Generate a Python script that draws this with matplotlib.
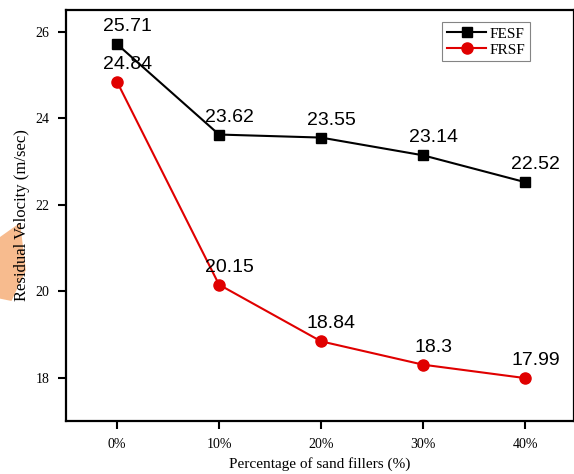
import matplotlib.pyplot as plt
from matplotlib.patches import Polygon

# percentage of sand fillers
labels = ["0%", "10%", "20%", "30%", "40%"]
fesf = [25.71, 23.62, 23.55, 23.14, 22.52]
frsf = [24.84, 20.15, 18.84, 18.3, 17.99]
x = list(range(len(labels)))

fig = plt.figure(figsize=(5.74, 4.74), dpi=100)
ax = fig.add_axes([0.115, 0.112, 0.885, 0.867])

# orange blob at the left edge of the original image
fig.patches.append(Polygon([[0.0, 0.50], [0.035, 0.53], [0.045, 0.43], [0.02, 0.365], [0.0, 0.37]],
                           closed=True, transform=fig.transFigure, facecolor='#f6b07a',
                           edgecolor='none', alpha=0.85, zorder=-5))

ax.plot(x, fesf, color='black', marker='s', markersize=7, linewidth=1.5, label='FESF')
ax.plot(x, frsf, color='#e00000', marker='o', markersize=8, linewidth=1.5, label='FRSF')

# value labels sit a bit right of and above each point
for xi, v in zip(x, fesf):
    ax.annotate(str(v), (xi, v), xytext=(7.5, 12.5), textcoords='offset points', ha='center',
                va='center', fontsize=14, family='Liberation Sans')
for xi, v in zip(x, frsf):
    ax.annotate(str(v), (xi, v), xytext=(7.5, 12.5), textcoords='offset points', ha='center',
                va='center', fontsize=14, family='Liberation Sans')

ax.set_xlim(-0.5, 4.48)
ax.set_ylim(17, 26.5)
ax.set_xticks(x)
ax.set_xticklabels(labels)
ax.set_yticks([18, 20, 22, 24, 26])
ax.tick_params(direction='out', length=6, width=1.5, labelsize=10, pad=6)
for lab in ax.get_xticklabels() + ax.get_yticklabels():
    lab.set_family('Liberation Serif')
for s in ax.spines.values():
    s.set_linewidth(1.6)

ax.set_xlabel('Percentage of sand fillers (%)', family='Liberation Serif', fontsize=11, labelpad=5)
ax.set_ylabel('Residual Velocity (m/sec)', family='Liberation Serif', fontsize=12, labelpad=4)

leg = ax.legend(loc='upper right', bbox_to_anchor=(0.913, 0.97), prop={'family': 'Liberation Serif', 'size': 11},
                fancybox=False, edgecolor='#666666', handlelength=2.6, handletextpad=0.2,
                borderpad=0.3, labelspacing=0.15, borderaxespad=0)
leg.get_frame().set_linewidth(0.8)

fig.savefig('out.png', dpi=100)
